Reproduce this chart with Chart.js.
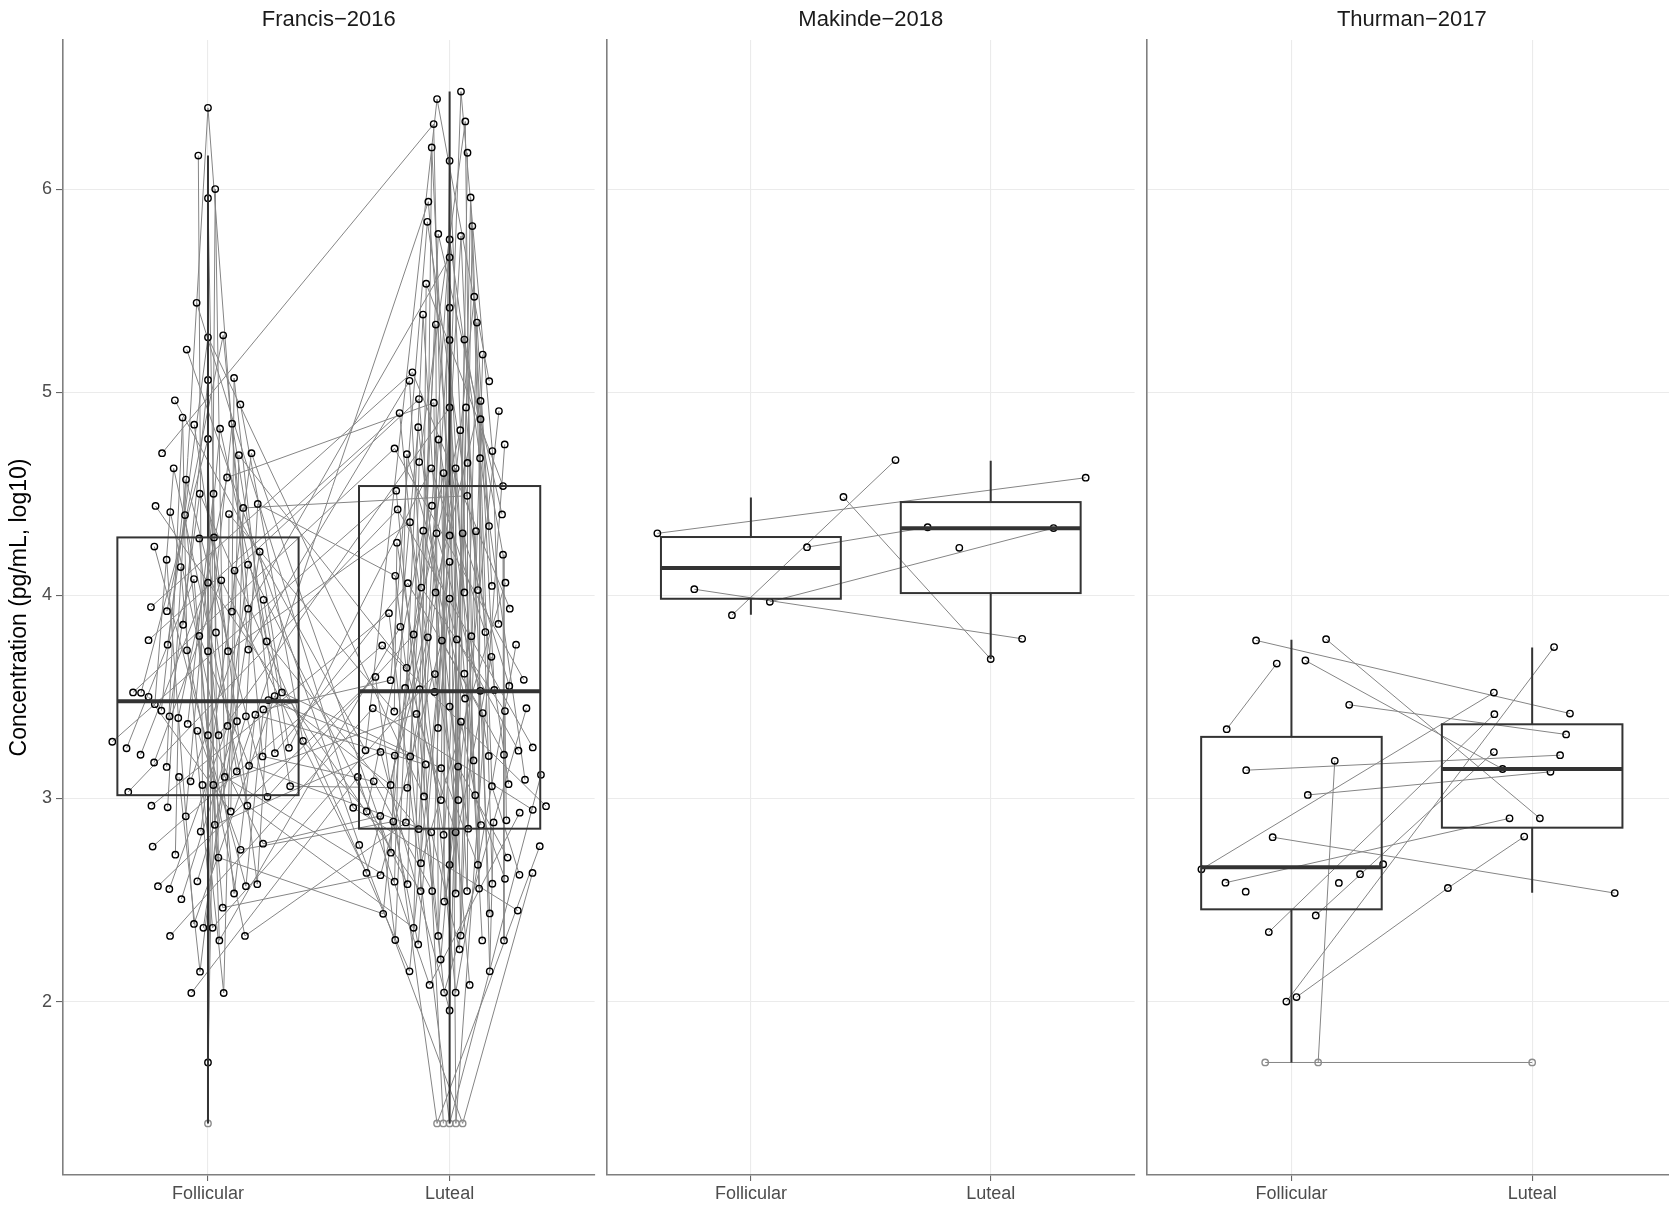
<!DOCTYPE html>
<html>
<head>
<meta charset="utf-8">
<script src="https://cdn.jsdelivr.net/npm/chart.js@4.4.0/dist/chart.umd.min.js"></script>
<style>
  html, body { margin: 0; padding: 0; background: #ffffff; overflow: hidden; width: 1669px; height: 1209px; }
  canvas { position: absolute; top: 0; }
</style>
</head>
<body>
<canvas id="panel1" width="600" height="1209" style="left:0px"></canvas>
<canvas id="panel2" width="544" height="1209" style="left:596px"></canvas>
<canvas id="panel3" width="546" height="1209" style="left:1136px"></canvas>
<script>
// categories and facets
const phases = ['Follicular', 'Luteal'];
const studies = ['Francis\u22122016', 'Makinde\u22122018', 'Thurman\u22122017'];
const yTicks = [2, 3, 4, 5, 6];

// points: [jittered x, concentration, subject]
const francisFollicular = [
  [1.000,6.40,12],[0.960,6.165,3],[1.030,6.00,27],[1.000,5.955,8],[0.953,5.44,54],[1.000,5.27,33],[1.063,5.28,5],[0.912,5.21,55],[1.000,5.06,14],[1.108,5.07,38],
  [0.863,4.96,41],[1.134,4.94,26],[0.895,4.875,9],[0.943,4.84,30],[1.050,4.82,17],[1.100,4.845,2],[1.000,4.77,36],[0.810,4.70,42],[1.128,4.69,24],[1.180,4.70,7],
  [0.858,4.625,40],[0.909,4.57,15],[1.079,4.58,29],[0.966,4.50,4],[1.023,4.50,21],[0.783,4.44,43],[0.844,4.41,18],[0.905,4.395,6],[1.087,4.40,31],[1.146,4.43,13],
  [1.206,4.45,25],[0.778,4.24,37],[0.964,4.28,10],[1.025,4.285,20],[1.214,4.215,34],[0.829,4.175,28],
  [0.887,4.139,16],[0.942,4.08,39],[1.000,4.062,23],[1.055,4.074,32],[1.110,4.122,3],[1.166,4.151,11],
  [0.764,3.942,44],[0.830,3.922,5],[0.897,3.855,14],[0.964,3.80,22],[1.033,3.817,8],[1.099,3.92,38],[1.166,3.934,1],[1.230,3.978,19],
  [0.754,3.779,45],[0.833,3.757,33],[0.913,3.729,9],[1.000,3.725,2],[1.083,3.725,30],[1.167,3.733,12],[1.243,3.773,17],
  [0.690,3.522,46],[0.723,3.52,36],[0.754,3.50,24],[0.780,3.464,40],[0.807,3.432,15],[0.841,3.404,4],[0.877,3.396,29],[0.916,3.367,21],[0.956,3.333,35],[1.000,3.311,6],
  [1.044,3.311,18],[1.081,3.357,31],[1.120,3.38,13],[1.157,3.404,25],[1.196,3.412,10],[1.229,3.438,37],[1.250,3.484,20],[1.276,3.504,28],[1.306,3.522,34],
  [0.604,3.279,47],[0.663,3.247,39],[0.721,3.215,23],[0.777,3.177,32],[0.829,3.155,9],[0.880,3.106,11],[0.928,3.084,1],[0.977,3.066,3],[1.022,3.066,14],[1.069,3.106,27],
  [1.119,3.133,8],[1.170,3.161,22],[1.226,3.207,5],[1.277,3.223,38],[1.335,3.249,19],[1.393,3.283,26],[0.670,3.032,48],[1.340,3.06,2],
  [0.766,2.964,49],[0.833,2.956,12],[0.908,2.912,17],[0.970,2.837,7],[1.028,2.87,36],[1.094,2.936,24],[1.163,2.964,40],[1.246,3.008,15],
  [0.771,2.763,50],[0.865,2.723,29],[1.043,2.709,21],[1.135,2.747,35],[1.228,2.777,6],
  [0.793,2.568,51],[0.840,2.554,31],[0.890,2.504,13],[0.956,2.592,25],[1.108,2.532,10],[1.157,2.568,37],[1.204,2.578,20],
  [0.942,2.382,28],[0.981,2.363,34],[1.019,2.363,16],[1.061,2.462,39],[1.047,2.301,23],[0.843,2.323,52],[1.153,2.323,9],
  [0.967,2.147,11],[0.931,2.042,53],[1.065,2.042,3],[1.000,1.70,14],[1.000,1.40,27]
];
const francisLuteal = [
  [2.047,6.48,5],[1.948,6.443,41],[1.934,6.32,42],[2.065,6.333,11],[1.926,6.205,33],[2.074,6.179,2],[2.000,6.139,24],[1.912,5.938,8],[2.087,5.959,16],[1.908,5.839,37],
  [2.094,5.818,13],[1.953,5.779,40],[2.000,5.752,21],[2.047,5.769,30],[2.000,5.664,1],[1.903,5.534,43],[2.102,5.47,35],[1.890,5.382,6],[2.000,5.416,17],[1.943,5.333,9],
  [2.113,5.343,22],[2.000,5.257,31],[2.061,5.259,14],[2.137,5.185,4],[1.846,5.098,44],[1.834,5.056,12],[2.164,5.054,41],[1.873,4.966,3],[1.935,4.948,29],[2.000,4.925,18],
  [2.068,4.925,36],[2.128,4.957,7],[1.793,4.897,45],[2.204,4.907,42],[2.128,4.867,34],[1.870,4.828,23],[2.044,4.813,15],[1.954,4.767,32],[1.772,4.723,46],[1.823,4.695,27],
  [2.228,4.743,1],[2.177,4.71,5],[1.874,4.656,11],[1.924,4.625,19],[1.975,4.602,28],[2.025,4.625,2],[2.074,4.652,33],[2.126,4.675,24],[1.779,4.515,47],[2.221,4.538,43],
  [2.073,4.49,13],[1.785,4.423,48],[1.927,4.441,21],[2.217,4.398,40],[1.836,4.36,30],[1.891,4.318,26],[1.946,4.305,6],[2.000,4.295,35],[2.054,4.305,9],[2.109,4.316,17],
  [2.163,4.341,22],[1.782,4.259,31],[2.221,4.20,14],
  [2.000,4.165,4],[1.775,4.096,25],[1.827,4.06,38],[1.883,4.038,12],[1.942,4.014,3],[2.000,3.984,29],[2.061,4.014,18],[2.117,4.026,36],[2.175,4.046,7],[2.231,4.062,20],
  [2.249,3.934,44],[1.749,3.912,49],[1.796,3.845,23],[1.851,3.807,15],[1.910,3.793,32],[1.968,3.777,39],[2.030,3.783,27],[2.090,3.799,11],[2.148,3.819,19],[2.202,3.859,5],
  [2.173,3.697,28],[2.275,3.757,45],[1.721,3.753,50],[1.822,3.643,24],[1.939,3.612,16],[2.061,3.614,8],[1.693,3.598,51],[1.756,3.582,37],[1.816,3.544,21],[1.876,3.538,40],
  [1.938,3.524,30],[2.064,3.492,26],[2.127,3.53,6],[2.185,3.534,35],[2.247,3.554,9],[2.307,3.584,46],[1.682,3.444,52],[1.771,3.428,31],[1.863,3.416,14],[2.000,3.452,4],
  [2.047,3.378,25],[2.137,3.42,38],[2.229,3.43,12],[2.318,3.444,47],[1.952,3.347,29],[1.652,3.237,41],[1.714,3.229,36],[1.773,3.211,7],[1.837,3.207,20],[1.901,3.167,10],
  [1.965,3.149,34],[2.035,3.157,23],[2.099,3.187,15],[2.162,3.209,32],[2.225,3.215,39],[2.285,3.235,27],[2.344,3.251,48],[1.620,3.106,53],[1.686,3.084,5],[1.756,3.066,28],
  [1.825,3.052,2],[1.894,3.01,33],[1.964,2.992,24],[2.036,2.992,16],[2.106,3.016,8],[2.175,3.06,13],[2.244,3.07,37],[2.312,3.092,21],[2.378,3.116,49],[1.601,2.954,54],
  [1.657,2.936,26],[1.713,2.914,6],[1.767,2.886,35],[1.819,2.882,9],[1.872,2.849,17],[1.924,2.833,22],[1.975,2.821,31],[2.025,2.833,14],[2.077,2.851,4],[2.130,2.869,25],
  [2.182,2.882,38],[2.235,2.892,12],[2.290,2.93,53],[2.344,2.944,52],[2.399,2.962,50],[1.626,2.771,55],[1.757,2.733,7],[1.881,2.681,20],[2.000,2.673,42],[2.117,2.673,34],
  [2.240,2.709,23],[2.373,2.765,51],[1.656,2.633,32],[1.714,2.622,39],[1.772,2.59,27],[1.826,2.578,11],[1.880,2.544,43],[1.928,2.544,5],[1.978,2.492,28],[2.025,2.532,2],
  [2.072,2.544,33],[2.122,2.556,24],[2.177,2.58,16],[2.229,2.604,8],[2.289,2.624,13],[2.343,2.633,55],[1.725,2.432,21],[1.851,2.363,40],[2.166,2.434,30],[2.282,2.448,54],
  [1.775,2.303,6],[1.870,2.281,35],[1.953,2.323,9],[2.046,2.325,17],[2.041,2.257,22],[2.135,2.301,31],[2.225,2.301,14],[1.834,2.149,4],[1.963,2.207,25],[2.166,2.149,38],
  [1.917,2.082,53],[2.083,2.082,3],[1.977,2.044,47],[2.025,2.044,45],[2.000,1.956,36],
  [1.948,1.40,51],[1.974,1.40,10],[2.000,1.40,49],[2.026,1.40,1],[2.054,1.40,55]
];
const makindeFollicular = [
  [0.610,4.305,1],[0.764,4.03,2],[0.921,3.902,3],[1.079,3.968,4],[1.234,4.237,5],[1.386,4.484,6]
];
const makindeLuteal = [
  [1.603,4.666,3],[1.737,4.335,5],[1.869,4.234,7],[2.000,3.686,6],[2.131,3.786,2],[2.262,4.331,4],[2.396,4.579,1]
];
const thurmanFollicular = [
  [0.853,3.778,1],[0.939,3.664,2],[1.058,3.679,4],[1.144,3.784,3],[1.240,3.461,5],[0.731,3.341,2],[0.812,3.139,6],[1.180,3.185,7],
  [1.068,3.017,9],[0.922,2.809,10],[0.626,2.651,11],[1.381,2.676,17],[1.285,2.627,18],[0.726,2.585,15],[0.810,2.541,19],[1.197,2.584,20],
  [1.101,2.424,16],[0.906,2.342,12],[0.979,2.000,13],[1.021,2.022,14],[0.891,1.70,8],[1.111,1.70,7]
];
const thurmanLuteal = [
  [1.841,3.521,11],[1.843,3.415,12],[2.091,3.745,13],[2.157,3.418,1],[2.141,3.315,5],[2.116,3.213,6],[1.841,3.228,16],[1.877,3.145,4],
  [2.076,3.131,9],[1.906,2.902,15],[2.032,2.902,3],[1.967,2.812,14],[1.650,2.559,14],[2.343,2.534,10],[2.000,1.70,8]
];

// box stats: [lower whisker, Q1, median, Q3, upper whisker]
const francisBoxes = [[1.40, 3.016, 3.478, 4.285, 6.165], [1.40, 2.851, 3.528, 4.538, 6.48]];
const makindeBoxes = [[3.904, 3.983, 4.134, 4.287, 4.482], [3.686, 4.011, 4.330, 4.459, 4.663]];
const thurmanBoxes = [[1.70, 2.454, 2.661, 3.303, 3.781], [2.536, 2.856, 3.145, 3.365, 3.743]];

// detection limit values (drawn grey)
const lodValues = [1.40, null, 1.70];

const FONT = '"Liberation Sans", Arial, Helvetica, sans-serif';
Chart.defaults.font.family = FONT;

function stripTitle(text) {
  return {
    id: 'stripTitle',
    afterDraw(chart) {
      const { ctx, chartArea } = chart;
      ctx.save();
      ctx.font = '22px ' + FONT;
      ctx.fillStyle = '#1a1a1a';
      ctx.textAlign = 'center';
      ctx.textBaseline = 'middle';
      ctx.fillText(text, (chartArea.left + chartArea.right) / 2, 20);
      ctx.restore();
    }
  };
}

function boxPlot(stats) {
  return {
    id: 'boxPlot',
    afterDatasetsDraw(chart) {
      const { ctx, scales: { x, y } } = chart;
      stats.forEach((s, i) => {
        const cx = x.getPixelForValue(i + 1);
        const hw = x.getPixelForValue(i + 1.375) - cx;
        const [lo, q1, med, q3, hi] = s.map(v => y.getPixelForValue(v));
        ctx.save();
        ctx.strokeStyle = '#333333';
        ctx.lineWidth = 2;
        ctx.beginPath();
        ctx.moveTo(cx, hi); ctx.lineTo(cx, q3);
        ctx.moveTo(cx, q1); ctx.lineTo(cx, lo);
        ctx.stroke();
        ctx.strokeRect(cx - hw, q3, 2 * hw, q1 - q3);
        ctx.lineWidth = 4;
        ctx.beginPath();
        ctx.moveTo(cx - hw, med); ctx.lineTo(cx + hw, med);
        ctx.stroke();
        ctx.restore();
      });
    }
  };
}

// connect each subject's points in x order (like geom_line)
function subjectLines(points) {
  const groups = {};
  points.forEach(p => { (groups[p[2]] = groups[p[2]] || []).push(p); });
  return Object.values(groups).map(g => g.slice().sort((a, b) => a[0] - b[0]));
}

function drawPanel(id, idx, fol, lut, boxes, first, rightPad) {
  const pts = fol.concat(lut);
  const lod = lodValues[idx];
  const lineSets = subjectLines(pts).map(g => ({
    data: g.map(p => ({ x: p[0], y: p[1] })),
    showLine: true,
    borderColor: '#858585',
    borderWidth: 1,
    pointRadius: 0,
    order: 2
  }));
  const pointSet = {
    data: pts.map(p => ({ x: p[0], y: p[1] })),
    showLine: false,
    pointRadius: 3.2,
    pointBorderWidth: 1.4,
    pointBorderColor: pts.map(p => p[1] === lod ? '#8c8c8c' : '#000000'),
    pointBackgroundColor: 'rgba(0,0,0,0)',
    order: 1
  };

  new Chart(document.getElementById(id), {
    type: 'scatter',
    data: { datasets: [pointSet].concat(lineSets) },
    options: {
      responsive: false,
      animation: false,
      devicePixelRatio: 1,
      events: [],
      layout: { padding: { top: 40, right: rightPad, bottom: 0, left: 0 } },
      plugins: { legend: { display: false }, tooltip: { enabled: false } },
      scales: {
        x: {
          type: 'linear',
          min: 0.4,
          max: 2.6,
          afterBuildTicks: s => { s.ticks = [{ value: 1 }, { value: 2 }]; },
          afterFit: s => { s.height = 34; },
          ticks: {
            callback: v => phases[v - 1],
            color: '#4d4d4d',
            font: { size: 18 },
            padding: 2,
            maxRotation: 0,
            autoSkip: false
          },
          grid: { color: '#ebebeb', lineWidth: 1.1, tickLength: 6, tickColor: '#666666' },
          border: { display: true, color: '#7f7f7f', width: 1.6 }
        },
        y: {
          type: 'linear',
          min: 1.146,
          max: 6.734,
          afterBuildTicks: s => { s.ticks = yTicks.map(v => ({ value: v })); },
          afterFit: s => { s.width = first ? 63 : 11; },
          ticks: { display: first, color: '#4d4d4d', font: { size: 18 }, padding: 4 },
          grid: { color: '#ebebeb', lineWidth: 1.1, drawTicks: first, tickLength: first ? 7 : 0, tickColor: '#666666' },
          border: { display: true, color: '#7f7f7f', width: 1.6 },
          title: {
            display: first,
            text: 'Concentration (pg/mL, log10)',
            color: '#000000',
            font: { size: 23 },
            padding: { top: 6, bottom: 0 }
          }
        }
      }
    },
    plugins: [stripTitle(studies[idx]), boxPlot(boxes)]
  });
}

drawPanel('panel1', 0, francisFollicular, francisLuteal, francisBoxes, true, 4);
drawPanel('panel2', 1, makindeFollicular, makindeLuteal, makindeBoxes, false, 5);
drawPanel('panel3', 2, thurmanFollicular, thurmanLuteal, thurmanBoxes, false, 5);
</script>
</body>
</html>
